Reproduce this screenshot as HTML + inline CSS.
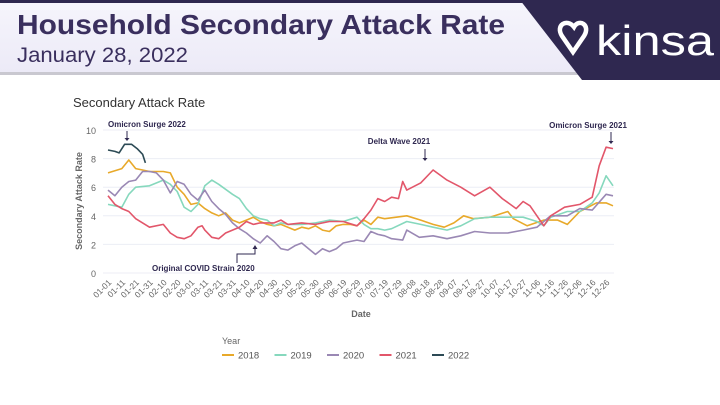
<!DOCTYPE html>
<html><head><meta charset="utf-8"><style>
body{margin:0;width:720px;height:405px;background:#fff;font-family:"Liberation Sans",sans-serif;overflow:hidden;position:relative}
</style></head><body>
<svg width="720" height="405" style="position:absolute;left:0;top:0">
<defs><linearGradient id="hg" x1="0" y1="0" x2="0" y2="1"><stop offset="0" stop-color="#f6f5fc"/><stop offset="1" stop-color="#eceaf7"/></linearGradient></defs>
<rect x="0" y="0" width="720" height="74" fill="url(#hg)"/>
<rect x="0" y="0" width="720" height="3" fill="#2f2850"/>
<rect x="0" y="72" width="600" height="3" fill="#c9c8d0"/>
<polygon points="520,0 720,0 720,80 582,80" fill="#2f2850"/>
<text x="17" y="34" font-size="28" font-weight="bold" fill="#3a2f5e" textLength="488" lengthAdjust="spacingAndGlyphs">Household Secondary Attack Rate</text>
<text x="17" y="62" font-size="21" fill="#3a2f5e" textLength="171" lengthAdjust="spacingAndGlyphs">January 28, 2022</text>
<g>
<path d="M574 27 c-7 -9 -19 -2 -12 9 l11 16 l11 -16 c7 -11 -5 -18 -10 -9z" fill="none" stroke="#fff" stroke-width="4.5"/>
<text x="596" y="55" font-size="42" fill="#fff" textLength="118" lengthAdjust="spacingAndGlyphs">kinsa</text>
</g>
<text x="73" y="107" font-size="13" fill="#333">Secondary Attack Rate</text>
<g id="chart"></g>
</svg>
<script>
const ticksY=[0,2,4,6,8,10];
const d18=[[0,7.0],[10,7.3],[15,7.9],[20,7.3],[25,7.2],[30,7.1],[40,7.1],[45,7.0],[50,6.0],[55,5.5],[60,4.8],[65,4.9],[70,4.5],[75,4.2],[80,4.0],[85,4.2],[90,3.7],[95,3.5],[100,3.7],[105,3.9],[110,3.6],[115,3.4],[120,3.3],[125,3.4],[130,3.2],[135,3.0],[140,3.2],[145,3.1],[150,3.3],[155,3.0],[160,2.9],[165,3.3],[170,3.4],[175,3.4],[180,3.3],[185,3.7],[190,3.4],[195,3.9],[200,3.8],[216,4.0],[226,3.7],[235,3.4],[243,3.2],[250,3.5],[257,4.0],[264,3.8],[276,3.9],[289,4.3],[293,3.8],[303,3.3],[315,3.7],[325,3.7],[332,3.4],[341,4.3],[353,4.9],[360,4.9],[365,4.7]];
const d19=[[0,4.8],[5,4.7],[10,4.6],[15,5.5],[20,6.0],[30,6.1],[40,6.5],[45,6.2],[50,5.7],[55,4.6],[60,4.3],[65,4.8],[70,6.1],[75,6.5],[80,6.2],[90,5.5],[95,5.2],[100,4.5],[105,4.0],[110,3.8],[115,3.7],[120,3.3],[125,3.5],[130,3.4],[140,3.4],[150,3.5],[160,3.7],[170,3.6],[180,3.9],[185,3.4],[190,3.1],[195,3.1],[200,3.0],[205,3.1],[216,3.6],[226,3.4],[235,3.2],[245,3.0],[255,3.3],[265,3.8],[276,3.9],[289,3.9],[300,3.9],[310,3.6],[315,3.3],[320,3.9],[332,4.3],[341,4.3],[350,4.9],[355,5.6],[360,6.8],[365,6.1]];
const d20=[[0,5.8],[5,5.4],[10,6.0],[15,6.4],[20,6.5],[25,7.1],[30,7.1],[35,7.0],[40,6.5],[45,5.6],[50,6.4],[55,6.2],[60,5.5],[65,5.1],[70,5.8],[75,5.0],[80,4.5],[85,4.1],[90,3.5],[95,3.1],[100,2.8],[105,2.4],[110,2.1],[115,2.6],[120,2.2],[125,1.7],[130,1.6],[135,1.9],[140,2.1],[145,1.7],[150,1.3],[155,1.7],[160,1.5],[165,1.7],[170,2.1],[175,2.2],[180,2.3],[185,2.2],[190,2.9],[195,2.7],[200,2.6],[205,2.4],[213,2.3],[216,3.0],[225,2.5],[235,2.6],[245,2.4],[255,2.6],[265,2.9],[276,2.8],[289,2.8],[300,3.0],[310,3.2],[320,4.0],[332,4.0],[341,4.5],[350,4.4],[360,5.5],[365,5.4]];
const d21=[[0,5.4],[5,4.8],[10,4.5],[15,4.3],[20,3.8],[25,3.5],[30,3.2],[40,3.4],[45,2.8],[50,2.5],[55,2.4],[60,2.6],[65,3.2],[68,3.3],[70,3.0],[75,2.5],[80,2.4],[85,2.8],[90,3.0],[95,3.2],[100,3.6],[105,3.4],[110,3.5],[120,3.5],[125,3.7],[130,3.4],[140,3.5],[150,3.4],[160,3.6],[170,3.6],[180,3.3],[185,3.8],[190,4.4],[195,5.2],[200,5.0],[205,5.3],[210,5.2],[213,6.4],[216,5.8],[226,6.3],[235,7.2],[245,6.5],[255,6.0],[265,5.4],[276,6.0],[285,5.2],[295,4.5],[300,5.0],[305,4.7],[315,3.3],[320,4.0],[330,4.6],[341,4.8],[350,5.3],[355,7.5],[360,8.8],[365,8.7]];
const d22=[[0,8.6],[5,8.5],[8,8.4],[12,9.0],[17,9.0],[21,8.7],[25,8.3],[27,7.7]];
const tickLabels=["01-01","01-11","01-21","01-31","02-10","02-20","03-01","03-11","03-21","03-31","04-10","04-20","04-30","05-10","05-20","05-30","06-09","06-19","06-29","07-09","07-19","07-29","08-08","08-18","08-28","09-07","09-17","09-27","10-07","10-17","10-27","11-06","11-16","11-26","12-06","12-16","12-26"];
const years=["2018","2019","2020","2021","2022"];
const colors=["#e8a92a","#86d8bd","#9a88b4","#e2566a","#2c4a55"];
const series=[d18,d19,d20,d21,d22];
const NS="http://www.w3.org/2000/svg";
const g=document.getElementById('chart');
const X=d=>108+d*(505/365), Y=v=>273-v*14.3;
function mk(t,a,p){const e=document.createElementNS(NS,t);for(const k in a)e.setAttribute(k,a[k]);(p||g).appendChild(e);return e;}
ticksY.forEach(v=>{
 const l=mk('line',{x1:103,x2:614,y1:Y(v),y2:Y(v),stroke:'#eceef5','stroke-width':1});
 
 
 const t=mk('text',{x:96,y:Y(v)+4,'font-size':9,fill:'#666','text-anchor':'end'});t.textContent=v;
 
 
});
tickLabels.forEach((s,i)=>{
 const x=X(i*10),y=283;
 const t=mk('text',{x:x+4,y:y,'font-size':8.5,fill:'#666','text-anchor':'end',transform:`rotate(-45 ${x+4} ${y})`});t.textContent=s;
 
 
});
series.forEach((s,i)=>{
 const p=mk('path',{d:s.map((q,j)=>(j?'L':'M')+X(q[0]).toFixed(1)+' '+Y(q[1]).toFixed(1)).join(''),fill:'none',stroke:colors[i],'stroke-width':1.6,'stroke-linejoin':'round'});
 
 
});
let t=mk('text',{x:82,y:201,'font-size':9,'font-weight':'bold',fill:'#666','text-anchor':'middle',transform:'rotate(-90 82 201)'});t.textContent='Secondary Attack Rate';

t=mk('text',{x:361,y:317,'font-size':9,'font-weight':'bold',fill:'#666','text-anchor':'middle'});t.textContent='Date';

const ann=[["Omicron Surge 2022",108,127,"start",127,131,141],["Delta Wave 2021",399,144,"middle",425,149,161],["Omicron Surge 2021",588,128,"middle",611,132,144]];
ann.forEach(a=>{
 const e=mk('text',{x:a[1],y:a[2],'font-size':8,'font-weight':'bold',fill:'#2f2850','text-anchor':a[3]});e.textContent=a[0];
 
 mk('line',{x1:a[4],x2:a[4],y1:a[5],y2:a[6]-2,stroke:'#2f2850','stroke-width':1});
 mk('path',{d:`M${a[4]-2.5} ${a[6]-3}L${a[4]+2.5} ${a[6]-3}L${a[4]} ${a[6]}Z`,fill:'#2f2850'});
});
t=mk('text',{x:152,y:271,'font-size':8,'font-weight':'bold',fill:'#2f2850'});t.textContent='Original COVID Strain 2020';

mk('path',{d:'M237 263 L237 254 L255 254 L255 248',fill:'none',stroke:'#2f2850','stroke-width':1});
mk('path',{d:'M252.5 249 L257.5 249 L255 245Z',fill:'#2f2850'});
t=mk('text',{x:222,y:344,'font-size':9,fill:'#666'});t.textContent='Year';

years.forEach((y,i)=>{
 const x=222+i*52.5;
 const lg=mk('g',{});
 
 
 mk('line',{x1:x,x2:x+12,y1:355,y2:355,stroke:colors[i],'stroke-width':2},lg);
 const tt=mk('text',{x:x+16,y:358.5,'font-size':9.5,fill:'#555'},lg);tt.textContent=y;
});
</script>
</body></html>
